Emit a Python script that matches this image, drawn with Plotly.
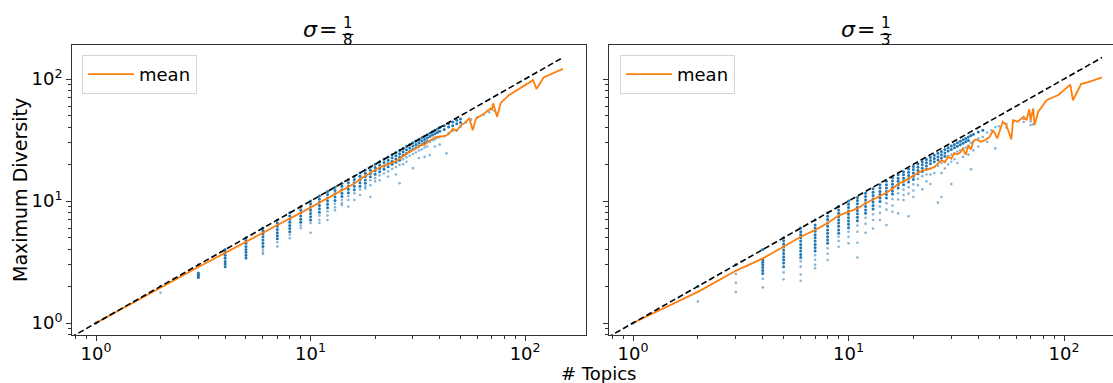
import plotly.graph_objects as go

W, H = 1113, 383

# ---------------- data: sigma = 1/8 (left) ----------------
s1_n = [1, 2, 3, 4, 5, 6, 7, 8, 9, 10, 11, 12, 13, 14, 15, 16, 17, 18, 19, 20,
        21, 22, 23, 24, 25, 26, 27, 28, 29, 30, 31, 32, 33, 34, 35, 36, 37, 38, 39, 40,
        42, 43, 44, 46, 48, 50, 53, 56, 60, 64, 68, 72]
s1_core = [[1], [2], [3, 2.57, 2.5, 2.43, 2.36], [4, 3.8, 3.6, 3.4, 3.2, 3.05, 2.9],
           [5, 4.75, 4.5, 4.25, 4.0, 3.8, 3.6, 3.42], [6, 5.7, 5.4, 5.1, 4.8, 4.5, 4.25],
           [7, 6.6, 6.2, 5.85, 5.5, 5.2, 4.9], [8, 7.55, 7.1, 6.7, 6.3, 5.95, 5.6],
           [9, 8.5, 8.0, 7.55, 7.1, 6.7], [10, 9.45, 8.9, 8.4, 7.9, 7.45, 7.0],
           [11, 10.4, 9.8, 9.2, 8.65, 8.1], [12, 11.3, 10.6, 10.0, 9.4, 8.8],
           [13, 12.2, 11.5, 10.8, 10.1], [14, 13.2, 12.4, 11.6, 10.9],
           [15, 14.1, 13.3, 12.5, 11.7], [16, 15.0, 14.1, 13.2, 12.4],
           [17, 16.0, 15.0, 14.1, 13.2], [18, 16.9, 15.9, 14.9, 14.0],
           [19, 17.9, 16.8, 15.8], [20, 18.8, 17.7, 16.6],
           [21, 19.7, 18.5, 17.4], [22, 20.7, 19.4, 18.2], [23, 21.6, 20.3, 19.1],
           [24, 22.6, 21.2, 20.0], [25, 23.5, 22.1, 20.8], [26, 24.4, 23.0, 21.6],
           [27, 25.4, 23.9], [28, 26.3, 24.7], [29, 27.2, 25.6], [30, 28.2, 26.5],
           [31, 29.1, 27.4], [32, 30.0, 28.2], [33, 31.0, 29.1], [34, 31.9, 30.0],
           [35, 32.8, 30.8], [36, 33.8], [37, 34.7], [38, 35.6], [39, 36.5], [40, 37.4],
           [41.5, 38.5], [], [43, 40.5], [44.5, 41.5], [46.0, 43.0], [47, 44],
           [], [], [], [], [], []]
s1_out = [[], [1.77], [], [], [], [4.0, 3.8, 3.68], [4.6, 4.25], [5.3, 4.95], [6.3, 6.0],
          [6.6, 5.5], [7.6, 7.0, 6.6], [8.2, 7.6, 7.0], [9.5, 8.9, 8.4], [10.2, 9.6, 9.26],
          [11.0, 10.2, 9.0], [11.6, 10.2], [12.4, 11.2], [13.2, 12.7], [14.8, 13.5, 10.8],
          [15.4, 14.5], [16.2, 14.8], [16.8], [17.5, 15.9], [18.3], [19.0, 16.5],
          [19.8, 14.0], [22.0, 20.0], [22.8, 21.0], [23.5], [24.3, 18.6], [25.0],
          [26.0, 22.5], [26.5], [27.5, 23.0], [28.0], [30.5, 23.8], [31.5], [32.0, 28.0],
          [33.0], [33.5, 29.0], [34.0], [24.6], [36.0], [37.5], [38.0], [40.5],
          [44.0], [46.5], [48.5], [51.0], [53.5], [55.0]]
m1_n = [1, 2, 3, 4, 5, 6, 7, 8, 9, 10, 11, 12, 13, 14, 15, 16, 17, 18, 19, 20,
        21, 22, 23, 24, 25, 26, 27, 28, 29, 30, 31, 32, 33, 34, 35, 36, 37, 38, 39, 40,
        42, 44, 46, 48, 50, 52, 55, 57, 59, 62, 64, 66, 69, 70, 71, 74, 77, 84,
        109, 113, 122, 150]
m1_y = [1.0, 1.96, 2.88, 3.76, 4.65, 5.52, 6.37, 7.2, 8.0, 8.85, 9.65, 10.5, 11.3, 12.2,
        13.0, 13.9, 15.1, 16.0, 17.0, 18.0, 18.9, 19.5, 20.0, 20.6, 21.2, 22.2, 23.4,
        24.4, 25.4, 26.1, 26.9, 27.9, 29.3, 28.8, 30.3, 31.5, 32.2, 33.2, 33.6, 33.8,
        34.0, 35.3, 39.0, 37.6, 41.5, 43.5, 47.5, 38.1, 47.5, 49.5, 51.6, 53.9, 57.4,
        55.5, 63.2, 49.1, 63.7, 73.8, 98.0, 83.0, 103.0, 121.0]

# ---------------- data: sigma = 1/3 (right) ----------------
s2_n = [1, 2, 3, 4, 5, 6, 7, 8, 9, 10, 11, 12, 13, 14, 15, 16, 17, 18, 19, 20,
        21, 22, 23, 24, 25, 26, 27, 28, 29, 30, 31, 32, 33, 34, 35, 36, 37, 38, 40,
        42, 44, 46, 48, 50, 54, 58, 65, 70, 72]
s2_core = [[1], [2], [3], [4, 3.3, 3.15, 3.0, 2.85, 2.7, 2.55],
           [5, 4.72, 4.45, 4.2, 3.95, 3.72, 3.5, 3.3, 3.1, 2.9],
           [6, 5.6, 5.3, 5.0, 4.7, 4.4, 4.15, 3.9, 3.65, 3.45],
           [7, 6.35, 6.0, 5.65, 5.3, 5.0, 4.7, 4.4, 4.15, 3.9],
           [8, 7.5, 7.05, 6.6, 6.2, 5.8, 5.45, 5.1, 4.8, 4.5],
           [9, 8.45, 7.95, 7.45, 7.0, 6.6, 6.2, 5.8, 5.45],
           [10, 9.4, 8.85, 8.3, 7.8, 7.3, 6.85, 6.45, 6.05],
           [10.7, 10.1, 9.5, 8.9, 8.35, 7.85, 7.35, 6.9],
           [11.6, 10.9, 10.2, 9.6, 9.0, 8.45, 7.95],
           [12.6, 11.8, 11.1, 10.4, 9.8, 9.2, 8.6],
           [13.6, 12.8, 12.0, 11.3, 10.6, 9.9],
           [14.5, 13.6, 12.8, 12.0, 11.3, 10.6],
           [15.5, 14.6, 13.7, 12.9, 12.1, 11.4],
           [16.4, 15.4, 14.5, 13.6, 12.8], [17.4, 16.4, 15.4, 14.5, 13.6],
           [18.3, 17.2, 16.2, 15.2, 14.3], [19.2, 18.1, 17.0, 16.0, 15.0],
           [20.1, 18.9, 17.8, 16.7], [21.0, 19.8, 18.6, 17.5], [21.9, 20.6, 19.4, 18.2],
           [22.8, 21.5, 20.2], [23.7, 22.3, 21.0], [24.6, 23.1, 21.7], [25.5, 24.0, 22.5],
           [26.4, 24.8, 23.3], [27.3, 25.7], [28.2, 26.5], [29.1, 27.3], [30.0, 28.1],
           [30.9, 29.0], [31.8, 29.8], [32.6, 30.6], [33.5, 31.4], [34.4], [35.3],
           [36.8], [38.0], [], [], [], [], [], [], [], [], []]
s2_out = [[], [1.5], [2.52, 2.14, 1.80], [2.3, 1.96], [2.6, 2.28], [3.2, 2.9, 2.5, 2.22],
          [3.6, 3.3, 3.0, 2.81], [4.1, 3.7, 3.28], [5.1, 4.7, 4.22], [5.6, 5.1, 4.5],
          [6.3, 5.6, 4.55, 3.45], [7.3, 6.5, 5.5], [7.8, 7.0, 5.96], [9.0, 8.0, 7.0],
          [9.6, 8.5, 6.35], [10.4, 9.2, 8.17], [11.6, 10.3, 7.93], [12.4, 11.2, 10.2],
          [13.0, 11.5, 7.5], [13.7, 12.2, 10.8], [15.2, 13.5], [16.0, 12.5], [16.5, 14.5],
          [18.5, 16.5, 13.8], [19.0, 17.0], [19.5, 9.7], [20.5, 17.0, 10.8], [21.0, 18.5],
          [23.5, 20.0], [24.0, 21.0, 13.8], [24.5, 22.0], [25.5, 20.5], [26.0],
          [27.0, 23.0], [27.5], [28.5, 24.0], [30.0, 18.2], [31.0, 26.0], [32.5, 28.0],
          [33.5], [36.5, 30.5], [38.0], [40.5, 27.0], [41.0], [40.0, 43.0], [44.0],
          [47.0, 44.5], [42.0, 45.0], [42.5]]
m2_n = [1, 2, 3, 4, 5, 6, 7, 8, 9, 10, 11, 12, 13, 14, 15, 16, 17, 18, 19, 20,
        21, 22, 23, 24, 25, 26, 27, 28, 29, 30, 31, 32, 33, 34, 35, 36, 37, 38, 39, 40,
        41, 43, 45, 47, 49, 52, 54, 57, 58, 61, 65, 67, 69, 70, 72, 73, 76, 83, 94,
        107, 110, 120, 134, 150]
m2_y = [1.0, 1.8, 2.68, 3.39, 4.22, 5.1, 5.78, 6.6, 7.6, 8.17, 8.7, 9.6, 10.3, 10.9,
        11.7, 12.6, 13.8, 14.5, 15.2, 16.1, 17.0, 17.8, 18.1, 18.4, 19.0, 20.2, 21.6,
        20.8, 23.2, 22.2, 24.6, 24.2, 25.0, 26.8, 24.0, 28.5, 26.5, 31.0, 32.0, 31.5,
        30.6, 31.6, 33.3, 38.0, 32.6, 44.7, 42.0, 32.0, 46.0, 44.7, 49.0, 46.0, 56.5,
        46.0, 57.5, 42.0, 54.0, 67.0, 74.0, 90.0, 67.0, 91.0, 96.0, 103.0]

ref_line = [0.5, 150]
titles = [("1", "8"), ("1", "3")]
tick_vals = [1, 10, 100]
tick_text = ["10<sup>0</sup>", "10<sup>1</sup>", "10<sup>2</sup>"]
minor_vals = [0.8, 0.9, 2, 3, 4, 5, 6, 7, 8, 9, 20, 30, 40, 50, 60, 70, 80, 90]

BLUE = "#1f77b4"
ORANGE = "#ff7f0e"
FONT = "DejaVu Sans"


def flat(ns, lists):
    xs, ys = [], []
    for n, vals in zip(ns, lists):
        for v in vals:
            xs.append(n)
            ys.append(v)
    return xs, ys


fig = go.Figure()
panels = [(s1_n, s1_core, s1_out, m1_n, m1_y, "x", "y", "legend"),
          (s2_n, s2_core, s2_out, m2_n, m2_y, "x2", "y2", "legend2")]
for ns, core, out, mn, my, xa, ya, lg in panels:
    cx, cy = flat(ns, core)
    ox, oy = flat(ns, out)
    fig.add_trace(go.Scatter(x=ox, y=oy, mode="markers", xaxis=xa, yaxis=ya,
                             marker=dict(color=BLUE, size=2.6, opacity=0.55),
                             showlegend=False, hoverinfo="skip"))
    fig.add_trace(go.Scatter(x=cx, y=cy, mode="markers", xaxis=xa, yaxis=ya,
                             marker=dict(color=BLUE, size=3, opacity=1),
                             showlegend=False, hoverinfo="skip"))
    fig.add_trace(go.Scatter(x=mn, y=my, mode="lines", xaxis=xa, yaxis=ya,
                             line=dict(color=ORANGE, width=1.8), name="mean",
                             legend=lg))
    fig.add_trace(go.Scatter(x=ref_line, y=ref_line, mode="lines", xaxis=xa, yaxis=ya,
                             line=dict(color="black", width=1.6, dash="6px,3px"),
                             showlegend=False, hoverinfo="skip"))

axis_common = dict(type="log", showline=True, mirror=True, linecolor="#333",
                   linewidth=1, ticks="outside", ticklen=5, tickwidth=1,
                   tickcolor="#333", showgrid=False, zeroline=False,
                   tickvals=tick_vals, ticktext=tick_text,
                   tickfont=dict(family=FONT, size=18, color="black"),
                   minor=dict(tickvals=minor_vals, ticks="outside", ticklen=3,
                              tickwidth=1, tickcolor="#333", showgrid=False))

yd = [1 - 335 / H, 1 - 45 / H]
legend_common = dict(y=1 - 55 / H, xanchor="left", yanchor="top",
                     bordercolor="#d5d5d5", borderwidth=1, bgcolor="white",
                     itemwidth=46, font=dict(family=FONT, size=18))
fig.update_layout(
    width=W, height=H, margin=dict(l=0, r=0, t=0, b=0),
    paper_bgcolor="white", plot_bgcolor="white",
    font=dict(family=FONT, color="black"),
    xaxis=dict(axis_common, domain=[72 / W, 586 / W], range=[-0.112, 2.284], anchor="y",
               ticklabelstandoff=-3),
    xaxis2=dict(axis_common, domain=[609 / W, 1.0], range=[-0.1114, 2.2274], anchor="y2",
                ticklabelstandoff=-3),
    yaxis=dict(axis_common, domain=yd, range=[-0.098, 2.279], anchor="x"),
    yaxis2=dict(axis_common, domain=yd, range=[-0.098, 2.279], anchor="x2",
                showticklabels=False),
    legend=dict(legend_common, x=82 / W),
    legend2=dict(legend_common, x=620 / W),
)


def pann(x, y, text, size, **kw):
    fig.add_annotation(x=x / W, y=1 - y / H, xref="paper", yref="paper", text=text,
                       showarrow=False, xanchor="center", yanchor="middle",
                       font=dict(family=FONT, size=size, color="black"), **kw)


for (num, den), cx in zip(titles, [329, 867]):
    pann(cx - 19, 30, "<i>σ</i>", 22)
    pann(cx - 1, 30, "=", 22)
    pann(cx + 19, 23, num, 15)
    pann(cx + 19, 40, den, 15)
    fig.add_shape(type="line", xref="paper", yref="paper",
                  x0=(cx + 13.5) / W, x1=(cx + 24.5) / W,
                  y0=1 - 34.5 / H, y1=1 - 34.5 / H,
                  line=dict(color="black", width=1.2))

pann(20, 190, "Maximum Diversity", 19, textangle=-90)
pann(598, 373, "# Topics", 18)

fig.write_html("out.html", config={"displayModeBar": False},
               post_script="document.body.style.margin='0';")
